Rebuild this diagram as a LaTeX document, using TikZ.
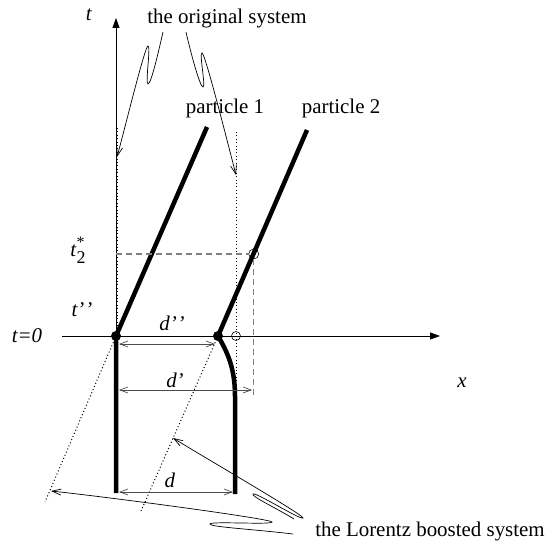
\documentclass[tikz,border=0pt]{standalone}
\usepackage{fontspec}
\setmainfont{Liberation Serif}
\usetikzlibrary{arrows.meta, positioning, calc}

\begin{document}
\begin{tikzpicture}[x=1bp, y=1bp, font=\fontsize{21}{25}\selectfont,
  axisline/.style={line width=0.8bp, -{Triangle[length=10bp,width=7bp]}},
  world/.style={line width=4.5bp},
  guide/.style={line width=1bp, dash pattern=on 1bp off 2.4bp},
  help/.style={gray, line width=1.2bp, dash pattern=on 6bp off 4bp},
  dist/.style={black!70, line width=0.7bp, {Straight Barb[length=8bp,width=6bp]}-{Straight Barb[length=8bp,width=6bp]}},
  note/.style={line width=0.7bp, -{Straight Barb[length=9bp,width=6bp]}},
  event/.style={circle, fill, inner sep=0pt, minimum size=10bp},
  ring/.style={circle, draw, inner sep=0pt, minimum size=9bp, line width=0.6bp}]

\useasboundingbox (-116,-210) rectangle (433,336);

% Events and end points
\coordinate (p1) at (0,0);
\coordinate (p2) at (102,0);
\coordinate (p1top) at (91,209);
\coordinate (p1bot) at (0,-157);
\coordinate (p2top) at (191,206);
\coordinate (p2bot) at (119,-158);
\coordinate (hit) at (137.7,82);

% Original system (dotted) and boosted system
\draw[guide] (1,208) -- (1,0);
\draw[guide] (120,204) -- (120,-56);
\draw[guide] (p1) -- (-71,-166);
\draw[guide] (p2) -- (25,-175);

% Axes
\draw[axisline] (-54,0) -- (324,0);
\draw[axisline] (p1) -- (0,318);
\node (tlab) at (-27,321) {\textit{t}};
\node (xlab) at (346,-47) {\textit{x}};
\node (t0) at (-89,0) {\textit{t=0}};

% World lines
\draw[world] (p1bot) -- (p1) -- (p1top);
\draw[world] (p2top) -- (p2) .. controls (110,-14) and (119,-30) .. (119,-60) -- (p2bot);

% Time t2*
\node[ring, minimum size=10bp] (hitring) at (hit) {};
\draw[help] (0,82) -- (hitring) -- (137.7,-62);
\node[ring] (origin2) at (120,0) {};
\node (t2) at (-38,86) {\textit{t}\makebox[0pt][l]{\raisebox{1.0ex}{\fontsize{16}{16}\selectfont *}}\raisebox{-0.7ex}{\fontsize{18}{18}\selectfont 2}};
\node (tpp) at (-34,26) {\textit{t'\kern1pt'}};

\node[event] (e1) at (p1) {};
\node[event] (e2) at (p2) {};

% Distances
\draw[dist] (3,-8) -- (99,-8);
\draw[dist] (3,-54) -- (136,-54);
\draw[dist] (3,-156) -- (117,-156);
\node (dpp) at (56,13) {\textit{d'\kern1pt'}};
\node (dp) at (59,-44) {\textit{d'}};
\node (d) at (54,-144) {\textit{d}};

% Labels
\node (orig) at (111,317) {the original system};
\node (part1) at (109,228) {particle 1};
\node (part2) at (225,228) {particle 2};
\node (boost) at (314,-195) {the Lorentz boosted system};

% Curly pointers
\coordinate (os1) at (47,304);
\coordinate (os2) at (70,304);
\coordinate (ot1) at (1,179);
\coordinate (ot2) at (120,161);
\coordinate (bs1) at (178,-183);
\coordinate (bs2) at (177,-198);
\coordinate (bt1) at (57,-102);
\coordinate (bt2) at (-65,-155);
\draw[note] (os1) .. controls (42,282) and (35,252) .. (32,252) .. controls (29,252) and (35,290) .. (32,290) .. controls (29,290) and (10,212) .. (ot1);
\draw[note] (os2) .. controls (75,282) and (84,249) .. (87,249) .. controls (90,249) and (83,283) .. (86,283) .. controls (89,283) and (111,196) .. (ot2);
\draw[note] (bs1) .. controls (157.5,-170.5) and (135.4,-160.6) .. (137,-158) .. controls (138.6,-155.4) and (185.4,-184.6) .. (187,-182) .. controls (188.6,-179.5) and (91,-123) .. (bt1);
\draw[note] (bs2) .. controls (135,-193) and (94,-191) .. (94,-188) .. controls (94,-185) and (156,-189) .. (156,-186) .. controls (156,-183) and (0,-162) .. (bt2);

\end{tikzpicture}
\end{document}
